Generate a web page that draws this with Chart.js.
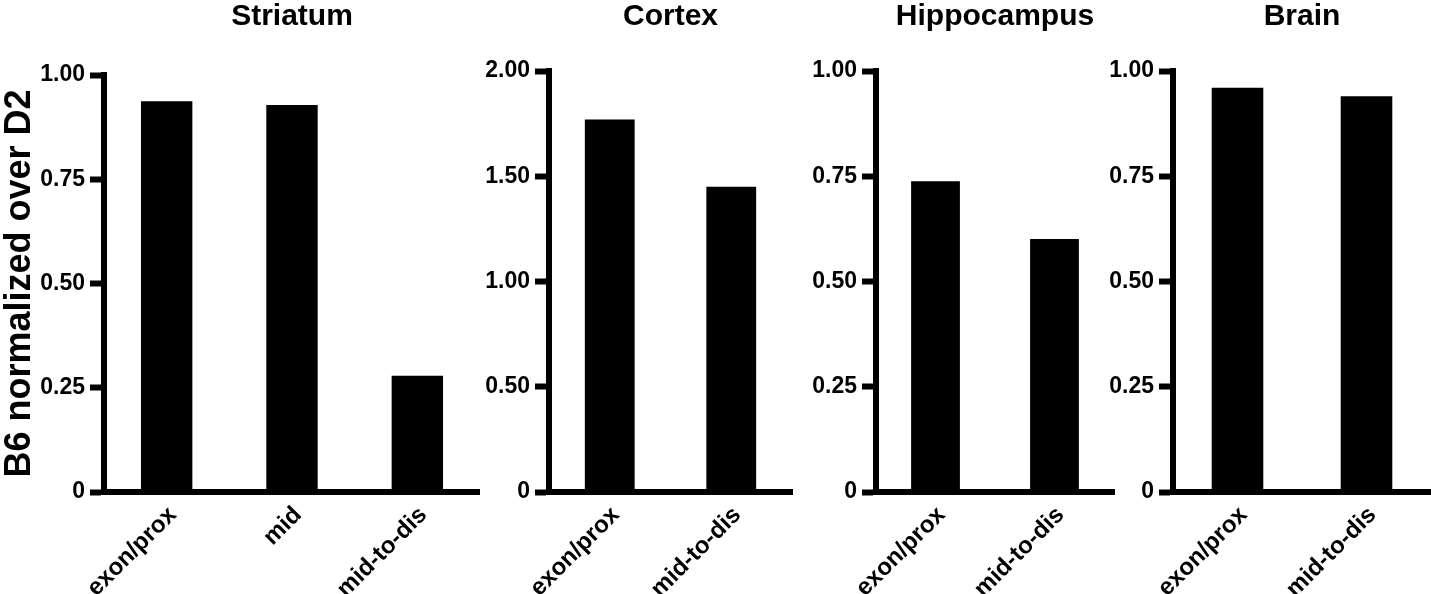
<!DOCTYPE html>
<html>
<head>
<meta charset="utf-8">
<title>B6 normalized over D2</title>
<script src="https://cdn.jsdelivr.net/npm/chart.js@4.4.1/dist/chart.umd.min.js"></script>
<style>
  body { margin: 0; background: #fff; }
  #wrap { position: relative; width: 1431px; height: 594px; }
  canvas { position: absolute; top: 0; }
</style>
</head>
<body>
<div id="wrap">
  <canvas id="striatum" width="480" height="594" style="left:0px"></canvas>
  <canvas id="cortex" width="320" height="594" style="left:480px"></canvas>
  <canvas id="hippocampus" width="320" height="594" style="left:800px"></canvas>
  <canvas id="brain" width="341" height="594" style="left:1090px"></canvas>
</div>
<script>
// values
const striatumLabels = ['exon/prox', 'mid', 'mid-to-dis'];
const striatumValues = [0.937, 0.928, 0.279];
const pairLabels = ['exon/prox', 'mid-to-dis'];
const cortexValues = [1.77, 1.45];
const hippocampusValues = [0.738, 0.601];
const brainValues = [0.96, 0.94];
const yAxisTitle = 'B6 normalized over D2';

Chart.defaults.font.family = '"Liberation Sans", Arial, Helvetica, sans-serif';
Chart.defaults.font.weight = 'bold';
Chart.defaults.color = '#000';

function makePanel(id, title, labels, values, yMax, yStep, box) {
    const ctx = document.getElementById(id);
    return new Chart(ctx, {
        type: 'bar',
        data: {
            labels: labels,
            datasets: [{
                data: values,
                backgroundColor: '#000',
                borderWidth: 0,
                barPercentage: box.bar,
                categoryPercentage: 1
            }]
        },
        options: {
            responsive: false,
            animation: false,
            devicePixelRatio: 1,
            layout: {
                autoPadding: false,
                padding: { top: 0, left: 0, bottom: 0, right: box.right }
            },
            plugins: {
                legend: { display: false },
                tooltip: { enabled: false },
                title: {
                    display: true,
                    text: title,
                    fullSize: false,
                    font: { size: 30, weight: 'bold', lineHeight: 1.1 },
                    padding: { top: 0, bottom: box.top - 33 }
                }
            },
            scales: {
                x: {
                    grid: { display: true, drawOnChartArea: false, drawTicks: false },
                    border: { display: true, width: 6, color: '#000' },
                    ticks: {
                        minRotation: 45,
                        maxRotation: 45,
                        autoSkip: false,
                        padding: 9,
                        labelOffset: 6,
                        font: { size: 24, weight: 'bold' }
                    },
                    afterFit: function(scale) { scale.height = 594 - 492; }
                },
                y: {
                    min: 0,
                    max: yMax,
                    grid: {
                        display: true,
                        drawOnChartArea: false,
                        drawTicks: true,
                        tickLength: 14,
                        tickWidth: 6,
                        tickColor: '#000'
                    },
                    border: { display: true, width: 6, color: '#000' },
                    ticks: {
                        stepSize: yStep,
                        padding: 5,
                        font: { size: 23, weight: 'bold' },
                        callback: function(v) { return v === 0 ? '0' : v.toFixed(2); }
                    },
                    title: {
                        display: box.yTitle,
                        text: yAxisTitle,
                        font: { size: 36, weight: 'bold', lineHeight: 1 },
                        padding: { top: 2, bottom: 0 }
                    },
                    afterFit: function(scale) { scale.width = box.axis; }
                }
            }
        }
    });
}

makePanel('striatum', 'Striatum', striatumLabels, striatumValues, 1, 0.25,
    { axis: 104, right: 0, top: 75, bar: 0.41, yTitle: true });
makePanel('cortex', 'Cortex', pairLabels, cortexValues, 2, 0.5,
    { axis: 69, right: 8, top: 71, bar: 0.41, yTitle: false });
makePanel('hippocampus', 'Hippocampus', pairLabels, hippocampusValues, 1, 0.25,
    { axis: 76, right: 6, top: 71, bar: 0.41, yTitle: false });
makePanel('brain', 'Brain', pairLabels, brainValues, 1, 0.25,
    { axis: 83, right: 0, top: 71, bar: 0.40, yTitle: false });
</script>
</body>
</html>
